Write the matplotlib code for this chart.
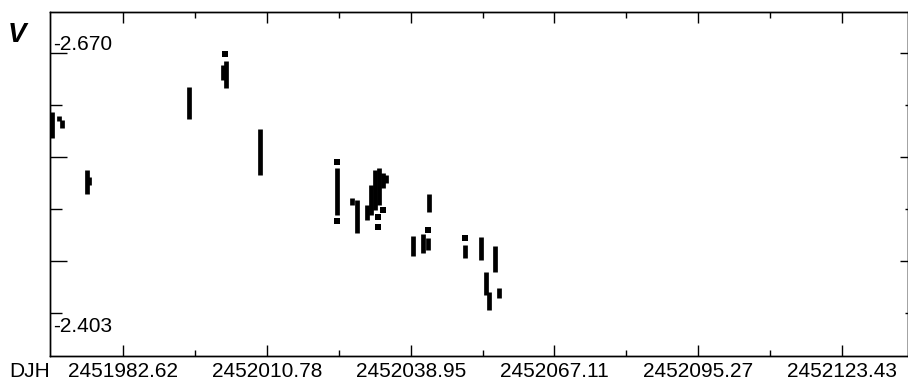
import numpy as np
import matplotlib.pyplot as plt

plt.rcParams['font.family'] = ['Liberation Sans', 'DejaVu Sans']

# nightly runs: julian date, brightest and faintest magnitude of the run
run_jd = [2451968.65, 2451970.02, 2451970.61, 2451975.51, 2451975.90,
          2451995.50, 2452002.16, 2452002.75, 2452009.41, 2452024.50,
          2452027.44, 2452028.42, 2452030.38, 2452031.16, 2452031.95,
          2452032.73, 2452033.51, 2452034.10, 2452042.53, 2452039.39,
          2452041.35, 2452042.33, 2452049.58, 2452052.72, 2452055.46,
          2452053.70, 2452054.29, 2452056.25]
run_top = [-2.6097, -2.6056, -2.6015, -2.5502, -2.5430,
           -2.6354, -2.6580, -2.6621, -2.5923, -2.5522,
           -2.5214, -2.5194, -2.5142, -2.5348, -2.5502,
           -2.5522, -2.5471, -2.5450, -2.5255, -2.4824,
           -2.4844, -2.4803, -2.4731, -2.4814, -2.4721,
           -2.4454, -2.4249, -2.4290]
run_bottom = [-2.5830, -2.6005, -2.5933, -2.5255, -2.5348,
              -2.6025, -2.6426, -2.6344, -2.5450, -2.5039,
              -2.5142, -2.4855, -2.4988, -2.5039, -2.5091,
              -2.5142, -2.5317, -2.5368, -2.5070, -2.4618,
              -2.4649, -2.4680, -2.4598, -2.4577, -2.4454,
              -2.4218, -2.4064, -2.4187]

# isolated single measurements
pt_jd = [2452002.55, 2452024.50, 2452024.50, 2452033.51, 2452032.53,
         2452032.53, 2452042.33, 2452049.58]
pt_mag = [-2.6693, -2.5584, -2.4978, -2.5091, -2.5019,
          -2.4916, -2.4885, -2.4803]

x_ticks = [2451982.62, 2452010.78, 2452038.95, 2452067.11, 2452095.27, 2452123.43]
x_labels = ['2451982.62', '2452010.78', '2452038.95', '2452067.11', '2452095.27', '2452123.43']
x_minor = [2451996.70, 2452024.87, 2452053.03, 2452081.19, 2452109.35]
y_major = [-2.670, -2.5632, -2.4564]
y_minor = [-2.6166, -2.5098, -2.403]
y_top_label, y_bot_label = -2.670, -2.403

xlim = (2451968.26, 2452136.42)
ylim = (-2.3591, -2.7129)

fig = plt.figure(figsize=(9.08, 3.83), dpi=100)
ax = fig.add_axes([50 / 908, 27 / 383, 858 / 908, 344.5 / 383])

ax.vlines(run_jd, run_top, run_bottom, colors='black', linewidth=3.4, capstyle='butt')
ax.plot(pt_jd, pt_mag, 's', color='black', markersize=3.9, markeredgewidth=0)

ax.set_xlim(*xlim)
ax.set_ylim(*ylim)

ax.set_xticks(x_ticks)
ax.set_xticklabels(x_labels, fontsize=15)
ax.set_xticks(x_minor, minor=True)
ax.set_yticks(y_major)
ax.set_yticks(y_minor, minor=True)
ax.set_yticklabels([])
ax.tick_params(axis='x', which='both', direction='in', top=True, pad=4)
ax.tick_params(axis='x', which='major', length=8, width=1)
ax.tick_params(axis='x', which='minor', length=4.5, width=1)
ax.tick_params(axis='y', which='major', direction='in', length=12.2, width=1)
ax.tick_params(axis='y', which='minor', direction='in', length=8.6, width=1)

# right side ticks are shorter
ax2 = ax.twinx()
ax2.set_ylim(*ylim)
ax2.set_yticks(y_major)
ax2.set_yticks(y_minor, minor=True)
ax2.set_yticklabels([])
ax2.tick_params(axis='y', which='major', direction='in', length=5.8, width=1)
ax2.tick_params(axis='y', which='minor', direction='in', length=2.2, width=1)

for a in (ax, ax2):
    for s in a.spines.values():
        s.set_linewidth(1)

ax.annotate('%.3f' % y_top_label, xy=(0, y_top_label), xycoords=('axes fraction', 'data'),
            xytext=(2, 2), textcoords='offset points', ha='left', va='baseline', fontsize=15)
ax.annotate('%.3f' % y_bot_label, xy=(0, y_bot_label), xycoords=('axes fraction', 'data'),
            xytext=(2, -2.5), textcoords='offset points', ha='left', va='top', fontsize=15)
ax.annotate('DJH', xy=(0, 0), xycoords='axes fraction', xytext=(0, -4),
            textcoords='offset points', ha='right', va='top', fontsize=15)

fig.text(8 / 908, 1 - 42 / 383, 'V', fontsize=20, fontweight='heavy', fontstyle='italic',
         ha='left', va='baseline')

fig.savefig('out.png', dpi=100)
